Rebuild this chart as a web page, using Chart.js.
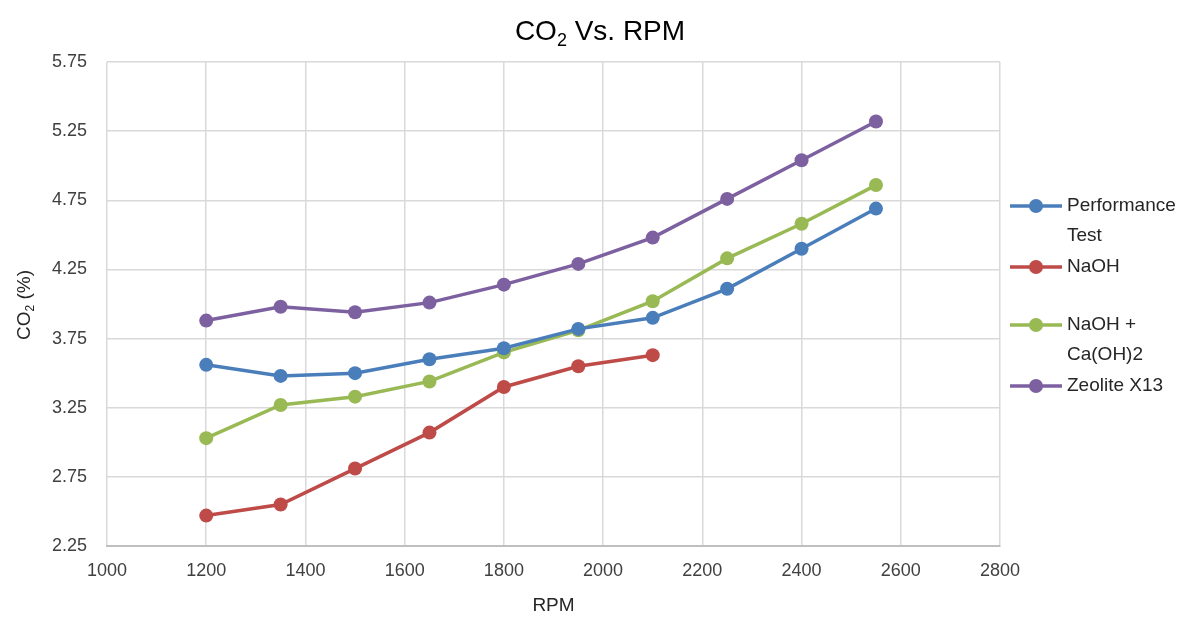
<!DOCTYPE html>
<html>
<head>
<meta charset="utf-8">
<script src="https://cdn.jsdelivr.net/npm/chart.js@4.4.1/dist/chart.umd.min.js"></script>
<style>
html,body{margin:0;padding:0;background:#fff;}
#wrap{width:1195px;height:617px;position:relative;}
</style>
</head>
<body>
<div id="wrap"><canvas id="c" width="1195" height="617"></canvas></div>
<script>
const rpm = [1200, 1350, 1500, 1650, 1800, 1950, 2100, 2250, 2400, 2550];
const performanceTest = [3.56, 3.48, 3.50, 3.60, 3.68, 3.82, 3.90, 4.11, 4.40, 4.69];
const naoh = [2.47, 2.55, 2.81, 3.07, 3.40, 3.55, 3.63];
const naohCaoh2 = [3.03, 3.27, 3.33, 3.44, 3.65, 3.81, 4.02, 4.33, 4.58, 4.86];
const zeolite = [3.88, 3.98, 3.94, 4.01, 4.14, 4.29, 4.48, 4.76, 5.04, 5.32];
const seriesNames = [["Performance", "Test"], ["NaOH"], ["NaOH +", "Ca(OH)2"], ["Zeolite X13"]];
const yTicks = [2.25, 2.75, 3.25, 3.75, 4.25, 4.75, 5.25, 5.75];
const xTicks = [1000, 1200, 1400, 1600, 1800, 2000, 2200, 2400, 2600, 2800];

const colors = ['#4A7EBB', '#BE4B48', '#98B954', '#7D60A0'];
const FONT = "'Liberation Sans Narrow', 'Liberation Sans', Arial, sans-serif";

function pts(vals) { return vals.map((v, i) => ({x: rpm[i], y: v})); }
const allSeries = [performanceTest, naoh, naohCaoh2, zeolite];

const datasets = allSeries.map((vals, i) => ({
  label: seriesNames[i].join(' '),
  data: pts(vals),
  borderColor: colors[i],
  backgroundColor: colors[i],
  borderWidth: 3.5,
  pointRadius: 7,
  pointHoverRadius: 7,
  pointBorderWidth: 0,
  showLine: true,
  tension: 0
}));

function drawSub(ctx, x, y, parts, size, align) {
  // parts: [[text, isSub], ...]
  let total = 0;
  const subSize = Math.round(size * 0.65);
  parts.forEach(p => { ctx.font = (p[1] ? subSize : size) + 'px ' + FONT; total += ctx.measureText(p[0]).width; });
  let cx = align === 'center' ? x - total / 2 : x;
  parts.forEach(p => {
    ctx.font = (p[1] ? subSize : size) + 'px ' + FONT;
    ctx.textAlign = 'left';
    ctx.textBaseline = 'alphabetic';
    ctx.fillText(p[0], cx, y + (p[1] ? size * 0.22 : 0));
    cx += ctx.measureText(p[0]).width;
  });
}

const decor = {
  id: 'decor',
  afterDraw(chart) {
    const ctx = chart.ctx;
    ctx.save();
    ctx.fillStyle = '#000';
    // Title
    drawSub(ctx, 600, 40, [['CO', false], ['2', true], [' Vs. RPM', false]], 28, 'center');
    // Y axis title
    ctx.save();
    ctx.translate(30, 305);
    ctx.rotate(-Math.PI / 2);
    ctx.fillStyle = '#262626';
    drawSub(ctx, 0, 0, [['CO', false], ['2', true], [' (%)', false]], 19, 'center');
    ctx.restore();
    // Legend
    const items = [
      {y: 206, lines: seriesNames[0]},
      {y: 267, lines: seriesNames[1]},
      {y: 325, lines: seriesNames[2]},
      {y: 386, lines: seriesNames[3]}
    ];
    items.forEach((it, i) => {
      ctx.strokeStyle = colors[i];
      ctx.lineWidth = 3.5;
      ctx.beginPath();
      ctx.moveTo(1010, it.y);
      ctx.lineTo(1062, it.y);
      ctx.stroke();
      ctx.fillStyle = colors[i];
      ctx.beginPath();
      ctx.arc(1036, it.y, 7, 0, Math.PI * 2);
      ctx.fill();
      ctx.fillStyle = '#262626';
      ctx.font = '19px ' + FONT;
      ctx.textAlign = 'left';
      ctx.textBaseline = 'middle';
      it.lines.forEach((ln, k) => ctx.fillText(ln, 1067, it.y + k * 30));
    });
    ctx.restore();
  }
};

new Chart(document.getElementById('c'), {
  type: 'scatter',
  data: { datasets },
  options: {
    responsive: false,
    animation: false,
    devicePixelRatio: 1,
    layout: { padding: { left: 0, right: 195, top: 62, bottom: 0 } },
    plugins: { legend: { display: false }, title: { display: false }, tooltip: { enabled: false } },
    scales: {
      x: {
        type: 'linear',
        min: 1000, max: 2800,
        afterBuildTicks(scale) { scale.ticks = xTicks.map(v => ({value: v})); },
        afterFit(scale) { scale.height = 71; },
        ticks: {
          callback: v => String(v),
          color: '#404040',
          font: { family: FONT, size: 18 },
          padding: 14,
          maxRotation: 0
        },
        grid: { color: '#D9D9D9', lineWidth: 1.5, drawTicks: false },
        border: { color: '#BFBFBF', width: 2 },
        title: { display: true, text: 'RPM', color: '#262626', font: { family: FONT, size: 19 }, padding: { top: 2, bottom: 0 } }
      },
      y: {
        type: 'linear',
        min: 2.25, max: 5.75,
        afterBuildTicks(scale) { scale.ticks = yTicks.map(v => ({value: v})); },
        afterFit(scale) { scale.width = 107; },
        ticks: {
          callback: v => Number(v).toFixed(2),
          color: '#404040',
          font: { family: FONT, size: 18 },
          padding: 20
        },
        grid: { color: '#D9D9D9', lineWidth: 1.5, drawTicks: false },
        border: { display: false }
      }
    }
  },
  plugins: [decor]
});
</script>
</body>
</html>
